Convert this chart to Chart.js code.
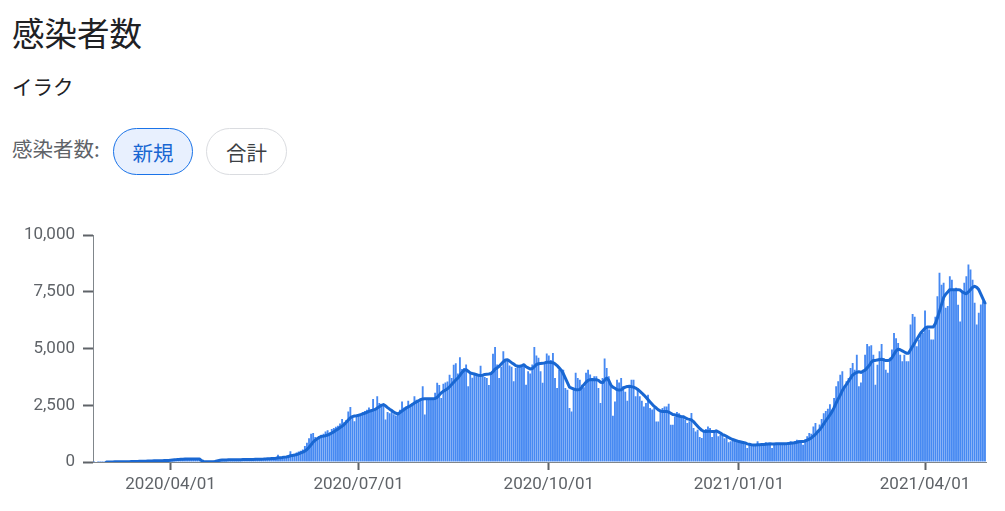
<!DOCTYPE html>
<html lang="ja">
<head>
<meta charset="utf-8">
<title>感染者数 - イラク</title>
<script src="https://cdn.jsdelivr.net/npm/chart.js@4.4.0/dist/chart.umd.min.js"></script>
<style>
  html, body {
    margin: 0;
    padding: 0;
    background: #fff;
    width: 1005px;
    height: 511px;
    overflow: hidden;
    font-family: Roboto, "Noto Sans CJK JP", sans-serif;
  }
  .title {
    position: absolute;
    left: 12px;
    top: 16px;
    font-size: 32.5px;
    line-height: 1;
    color: #202124;
    font-family: "Noto Sans CJK JP", sans-serif;
  }
  .region {
    position: absolute;
    left: 12px;
    top: 76px;
    font-size: 20.5px;
    line-height: 1;
    color: #202124;
    font-family: "Noto Sans CJK JP", sans-serif;
  }
  .label {
    position: absolute;
    left: 12px;
    top: 138px;
    font-size: 20.5px;
    line-height: 1;
    color: #5f6368;
    font-family: "Noto Sans CJK JP", sans-serif;
  }
  .chip {
    position: absolute;
    top: 128px;
    width: 80px;
    height: 47px;
    box-sizing: border-box;
    border-radius: 24px;
    display: flex;
    align-items: center;
    justify-content: center;
    font-size: 20.5px;
    font-family: "Noto Sans CJK JP", sans-serif;
  }
  .chip.active {
    left: 113px;
    border: 1px solid #1a73e8;
    background: #e8f0fe;
    color: #1967d2;
  }
  .chip.plain {
    left: 206px;
    width: 81px;
    border: 1px solid #dadce0;
    background: #fff;
    color: #3c4043;
  }
  #chartBox {
    position: absolute;
    left: 0;
    top: 217px;
    width: 1005px;
    height: 294px;
  }
</style>
</head>
<body>
<div class="title">感染者数</div>
<div class="region">イラク</div>
<div class="label">感染者数:</div>
<div class="chip active">新規</div>
<div class="chip plain">合計</div>
<div id="chartBox"><canvas id="casesChart" width="1005" height="294"></canvas></div>

<script>
// first day of the series: 2020/02/24, one value per day up to 2021/04/30
const startDate = [2020, 1, 24];

// daily new cases (bars)
const dailyCases = [
  1, 0, 2, 1, 2, 1, // 2020/02
  4, 6, 5, 8, 9, 10, 12, 15, 18, 20, 25, 22, 28, 30, 35, 38, 40, 42, 45, 50, 48, 52, 55, 60, 58, 62, 65, 60, 70, 68, 72, // 03
  95, 110, 120, 130, 125, 140, 135, 130, 145, 125, 130, 140, 120, 135, 128, 10, 5, 8, 3, 6, 4, 12, 90, 85, 95, 100, 92, 88, 96, 98, // 04
  105, 100, 110, 95, 115, 120, 110, 105, 125, 115, 120, 130, 115, 125, 135, 140, 165, 175, 160, 170, 180, 190, 320, 200, 210, 230, 250, 280, 470, 300, 330, // 05
  420, 460, 500, 550, 700, 850, 1050, 1250, 1280, 1100, 1000, 1150, 1200, 1250, 1350, 1400, 1300, 1450, 1500, 1550, 1600, 1700, 1900, 1750, 1850, 2230, 2430, 1950, 1800, 2050, // 06
  2100, 2050, 2200, 2250, 2300, 2400, 2300, 2780, 2350, 2900, 2600, 2550, 2500, 1870, 2200, 2150, 2250, 2100, 2050, 2150, 2300, 2670, 2400, 2450, 2700, 2500, 2600, 2900, 2750, 2700, 2800, // 07
  3340, 2090, 2800, 2820, 2780, 2750, 3050, 3490, 3400, 2820, 3450, 3500, 3550, 3850, 3700, 4290, 4350, 3900, 4620, 4100, 4150, 4300, 3340, 3900, 3720, 3850, 3900, 3850, 4240, 3800, 3750, // 08
  3700, 3400, 3900, 4770, 5075, 4300, 3700, 4200, 4880, 4500, 4450, 4250, 4200, 3560, 4150, 4200, 4250, 4200, 4300, 3410, 4000, 3900, 4300, 5075, 4700, 4600, 4000, 3490, 4400, 4780, // 09
  4700, 4500, 4810, 3700, 3260, 4070, 4000, 4070, 3260, 3190, 2380, 2230, 3190, 3930, 3700, 3630, 3410, 3300, 3930, 4070, 3860, 3700, 3780, 3780, 3260, 2600, 3700, 4560, 4150, 3780, 3340, // 10
  2040, 2670, 3630, 3500, 3700, 3350, 3100, 2700, 3300, 3630, 3630, 2900, 3260, 2900, 2700, 2450, 2600, 2970, 2380, 2310, 2380, 1790, 1790, 2230, 2380, 2450, 2450, 2570, 1645, 1645, // 11
  2010, 2200, 2150, 2010, 2000, 1870, 1720, 1800, 2160, 1500, 1350, 1425, 1100, 1060, 1350, 1450, 1570, 1500, 1100, 1350, 1420, 1130, 1200, 1150, 1050, 1060, 870, 920, 985, 950, 920, // 12
  910, 880, 900, 780, 620, 760, 780, 760, 770, 910, 780, 800, 780, 870, 840, 820, 620, 780, 840, 800, 790, 830, 800, 760, 880, 910, 850, 930, 985, 960, 940, // 2021/01
  760, 1000, 1130, 1280, 1250, 1570, 1720, 1420, 1650, 1900, 2150, 2250, 2350, 2550, 2300, 2820, 3340, 3560, 3850, 4000, 3270, 3560, 3700, 4150, 4370, 4070, 4730, 3340, // 02
  3500, 4070, 4730, 5200, 5100, 5150, 4730, 3410, 4290, 4880, 5200, 4590, 4070, 3930, 4600, 4960, 5690, 5460, 5250, 4730, 4440, 4730, 4440, 4440, 6060, 6530, 6400, 5100, 5400, 5620, 5700, // 03
  6680, 5980, 5840, 5400, 5400, 6400, 7310, 8340, 7820, 7900, 6800, 6880, 8190, 8040, 7600, 7680, 6930, 6200, 7530, 7900, 8190, 8710, 8490, 8040, 7020, 6060, 6580, 6940, 7090, 6940 // 04
];

// 7-day average (line)
const weeklyAverage = [
  null, null, null, null, null, null, // 2020/02
  3, 4, 5, 5, 6, 7, 8, 9, 11, 13, 15, 16, 18, 20, 23, 26, 29, 32, 35, 38, 41, 44, 47, 50, 53, 55, 58, 60, 62, 64, 66, // 03
  75, 85, 95, 105, 112, 120, 126, 128, 130, 131, 132, 133, 132, 133, 132, 60, 25, 10, 8, 7, 6, 6, 40, 60, 75, 90, 92, 93, 94, 95, // 04
  100, 100, 102, 103, 104, 106, 108, 110, 111, 113, 115, 117, 119, 121, 124, 127, 133, 140, 146, 152, 158, 163, 186, 190, 200, 215, 225, 240, 275, 290, 305, // 05
  330, 360, 400, 440, 480, 550, 650, 760, 880, 960, 1030, 1090, 1130, 1140, 1160, 1190, 1230, 1280, 1330, 1400, 1450, 1520, 1580, 1650, 1750, 1850, 1950, 2000, 2030, 2040, // 06
  2060, 2090, 2120, 2150, 2190, 2230, 2260, 2290, 2320, 2380, 2440, 2500, 2530, 2480, 2400, 2330, 2270, 2200, 2150, 2120, 2180, 2250, 2310, 2380, 2430, 2480, 2540, 2600, 2650, 2700, 2750, // 07
  2780, 2790, 2790, 2790, 2790, 2790, 2800, 2850, 2950, 3050, 3120, 3170, 3230, 3320, 3420, 3520, 3620, 3700, 3820, 3950, 4050, 4070, 4000, 3930, 3900, 3880, 3850, 3820, 3810, 3830, 3860, // 08
  3870, 3880, 3900, 3980, 4100, 4150, 4220, 4320, 4420, 4500, 4510, 4450, 4380, 4320, 4250, 4220, 4220, 4250, 4290, 4200, 4150, 4100, 4120, 4200, 4300, 4330, 4340, 4350, 4370, 4400, // 09
  4400, 4390, 4380, 4330, 4250, 4150, 4050, 3900, 3700, 3500, 3300, 3260, 3220, 3190, 3190, 3200, 3300, 3410, 3520, 3600, 3630, 3640, 3630, 3630, 3600, 3520, 3500, 3600, 3700, 3600, 3400, // 10
  3300, 3250, 3190, 3170, 3180, 3250, 3300, 3330, 3340, 3320, 3300, 3260, 3200, 3120, 3040, 2950, 2850, 2750, 2650, 2550, 2450, 2380, 2300, 2250, 2230, 2230, 2230, 2200, 2150, 2090, // 11
  2080, 2050, 2030, 2010, 2000, 1950, 1900, 1880, 1850, 1780, 1680, 1580, 1480, 1400, 1350, 1340, 1350, 1360, 1340, 1340, 1370, 1330, 1280, 1210, 1180, 1130, 1080, 1030, 990, 960, 930, // 12
  900, 880, 860, 840, 800, 780, 760, 750, 750, 760, 760, 770, 770, 780, 790, 800, 790, 790, 800, 800, 800, 800, 810, 810, 820, 830, 840, 850, 870, 890, 900, // 2021/01
  900, 920, 960, 1010, 1060, 1140, 1220, 1320, 1420, 1540, 1680, 1820, 1950, 2080, 2220, 2400, 2600, 2780, 2950, 3150, 3300, 3420, 3560, 3700, 3840, 3900, 3950, 3980, // 02
  3950, 4000, 4050, 4150, 4250, 4400, 4480, 4480, 4500, 4520, 4530, 4500, 4470, 4470, 4500, 4600, 4750, 4900, 4980, 4950, 4900, 4850, 4800, 4800, 4950, 5100, 5250, 5400, 5550, 5700, 5800, // 03
  5900, 5950, 5950, 5950, 5950, 6100, 6350, 6650, 6950, 7250, 7400, 7500, 7600, 7600, 7600, 7600, 7600, 7580, 7500, 7450, 7420, 7500, 7600, 7700, 7750, 7700, 7600, 7400, 7200, 7000 // 04
];

// dates shown under the x axis
const tickDates = ["2020/04/01", "2020/07/01", "2020/10/01", "2021/01/01", "2021/04/01"];

// y axis ticks
const yTicks = [0, 2500, 5000, 7500, 10000];

function pad2(n) {
  return n < 10 ? "0" + n : "" + n;
}

// one category label per day
const dateLabels = dailyCases.map(function (_, i) {
  const d = new Date(startDate[0], startDate[1], startDate[2] + i);
  return d.getFullYear() + "/" + pad2(d.getMonth() + 1) + "/" + pad2(d.getDate());
});

Chart.defaults.font.family = "Roboto, 'Noto Sans CJK JP', sans-serif";
Chart.defaults.color = "#5f6368";

const axisGray = "#80868b";

const ctx = document.getElementById("casesChart").getContext("2d");

new Chart(ctx, {
  type: "bar",
  data: {
    labels: dateLabels,
    datasets: [
      {
        type: "line",
        label: "7日間平均",
        data: weeklyAverage,
        borderColor: "#1967d2",
        borderWidth: 3,
        borderJoinStyle: "round",
        borderCapStyle: "round",
        pointRadius: 0,
        fill: false,
        tension: 0,
        order: 0,
      },
      {
        type: "bar",
        label: "新規",
        data: dailyCases,
        backgroundColor: "#4689f2",
        barPercentage: 0.9,
        categoryPercentage: 1,
        order: 1,
      },
    ],
  },
  options: {
    responsive: false,
    animation: false,
    events: [],
    layout: {
      padding: { top: 10, right: 19, left: 0, bottom: 0 },
    },
    plugins: {
      legend: { display: false },
      tooltip: { enabled: false },
    },
    scales: {
      x: {
        grid: {
          display: true,
          drawOnChartArea: false,
          offset: false,
          tickLength: 8,
          tickColor: "#5f6368",
          tickWidth: 2,
        },
        border: { display: true, color: axisGray, width: 1 },
        ticks: {
          autoSkip: false,
          maxRotation: 0,
          minRotation: 0,
          padding: 5,
          color: "#5f6368",
          font: { size: 17 },
        },
        afterBuildTicks: function (scale) {
          scale.ticks = scale.ticks.filter(function (t) {
            return tickDates.includes(dateLabels[t.value]);
          });
        },
        afterFit: function (scale) {
          scale.height = 49;
        },
      },
      y: {
        min: 0,
        max: 10000,
        grid: {
          display: true,
          drawOnChartArea: false,
          tickLength: 10,
          tickColor: "#5f6368",
          tickWidth: 2,
        },
        border: { display: true, color: axisGray, width: 1 },
        ticks: {
          padding: 8,
          color: "#5f6368",
          font: { size: 17 },
          callback: function (value) {
            return value.toLocaleString("en-US");
          },
        },
        afterBuildTicks: function (scale) {
          scale.ticks = yTicks.map(function (v) {
            return { value: v };
          });
        },
        afterFit: function (scale) {
          scale.width = 93;
        },
      },
    },
  },
});
</script>
</body>
</html>
